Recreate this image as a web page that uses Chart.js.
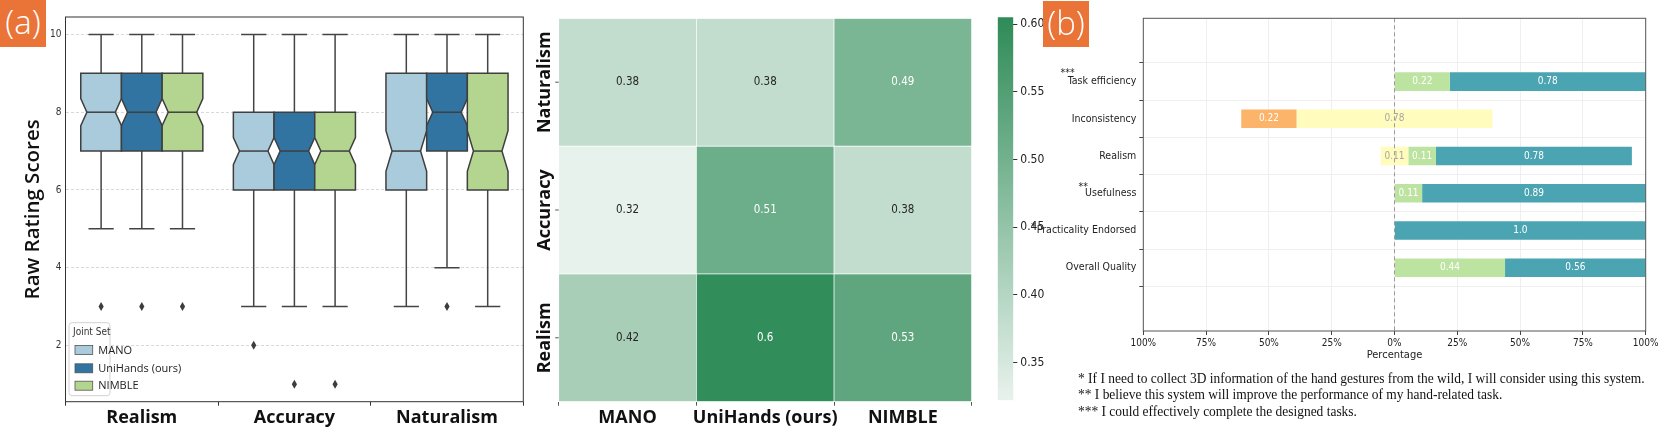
<!DOCTYPE html>
<html lang="en">
<head>
<meta charset="UTF-8">
<script src="https://cdn.jsdelivr.net/npm/chart.js"></script>
<title>Joint set user study</title>
<style>
	body { margin: 0; width: 1661px; height: 432px; background: #fff; position: relative; overflow: hidden; }
	.panel { position: absolute; top: 0; }
	.tag { position: absolute; background: #ea7438; color: #fff; font-family: 'Open Sans', sans-serif; font-weight: 300; font-size: 33px; line-height: 44px; text-align: center; }
	#notes { position: absolute; left: 1078px; top: 370.5px; font-family: 'Liberation Serif', 'DejaVu Serif', serif; font-size: 14px; line-height: 16.7px; color: #111; white-space: nowrap; transform: scaleX(0.96); transform-origin: 0 0; }
</style>
</head>
<body>
<div class="panel" style="left:0;width:560px;height:432px"><canvas id="boxChart"></canvas></div>
<div class="panel" style="left:530px;width:450px;height:432px"><canvas id="heatChart"></canvas></div>
<div class="panel" style="left:985px;width:60px;height:432px"><canvas id="colorBar"></canvas></div>
<div class="panel" style="left:1010px;width:651px;height:363px"><canvas id="likertChart"></canvas></div>
<div class="tag" style="left:0;top:0;width:46px;height:47px">(a)</div>
<div class="tag" style="left:1043px;top:1px;width:46px;height:46px">(b)</div>
<div id="notes">
	<div>* If I need to collect 3D information of the hand gestures from the wild, I will consider using this system.</div>
	<div>** I believe this system will improve the performance of my hand-related task.</div>
	<div>*** I could effectively complete the designed tasks.</div>
</div>
<script>
// ---- data: (a) box plot ----
const categories = ['Realism', 'Accuracy', 'Naturalism'];
const jointSets = ['MANO', 'UniHands (ours)', 'NIMBLE'];
const respondents = 81;
const manoQ1 = [7, 6, 6], manoMed = [8, 7, 7], manoQ3 = [9, 8, 9];
const manoLow = [5, 3, 3], manoHigh = [10, 10, 10], manoOut = [[3], [2], []];
const uniQ1 = [7, 6, 7], uniMed = [8, 7, 8], uniQ3 = [9, 8, 9];
const uniLow = [5, 3, 4], uniHigh = [10, 10, 10], uniOut = [[3], [1], [3]];
const nimQ1 = [7, 6, 6], nimMed = [8, 7, 7], nimQ3 = [9, 8, 9];
const nimLow = [5, 3, 3], nimHigh = [10, 10, 10], nimOut = [[3], [1], []];
const scoreTicks = [2, 4, 6, 8, 10];

// ---- data: heatmap ----
const heatRows = ['Naturalism', 'Accuracy', 'Realism'];
const heatCols = ['MANO', 'UniHands (ours)', 'NIMBLE'];
const naturalismShare = [0.38, 0.38, 0.49];
const accuracyShare = [0.32, 0.51, 0.38];
const realismShare = [0.42, 0.6, 0.53];
const colorMin = 0.322, colorMax = 0.605;
const colorTicks = [0.35, 0.40, 0.45, 0.50, 0.55, 0.60];

// ---- data: (b) survey ----
const surveyItems = ['Task efficiency', 'Inconsistency', 'Realism', 'Usefulness', 'Practicality Endorsed', 'Overall Quality'];
const itemMarks = ['***', '', '', '**', '*', ''];
const disagreeShare = [0, 0.22, 0, 0, 0, 0];
const neutralShare = [0, 0.78, 0.11, 0, 0, 0];
const agreeShare = [0.22, 0, 0.11, 0.11, 0, 0.44];
const strongShare = [0.78, 0, 0.78, 0.89, 1.0, 0.56];
const pctTicks = [-1, -0.75, -0.5, -0.25, 0, 0.25, 0.5, 0.75, 1];

// ---- styles ----
const narrow = "'Liberation Sans Narrow', 'DejaVu Sans Condensed', 'DejaVu Sans', sans-serif";
const boxColors = ['#a9cbdc', '#3274a1', '#b3d590'];
const cmapLow = [232, 242, 236], cmapHigh = [46, 139, 87];
const likertColors = ['#fbb46a', '#fffcbe', '#bde3a1', '#4ba4b2'];
const likertText = ['#ffffff', '#a8a8a0', '#ffffff', '#ffffff'];

Chart.defaults.font.family = "'Open Sans', sans-serif";
Chart.defaults.color = '#222';
Chart.defaults.animation = false;
Chart.defaults.devicePixelRatio = 1;
Chart.defaults.plugins.legend.display = false;
Chart.defaults.plugins.tooltip.enabled = false;

function fixTicks(list) {
	return function(scale) { scale.ticks = list.map(v => ({ value: v })); };
}

// ===================== (a) notched box plot =====================
const boxSets = [
	{ q1: manoQ1, med: manoMed, q3: manoQ3, lo: manoLow, hi: manoHigh, out: manoOut },
	{ q1: uniQ1, med: uniMed, q3: uniQ3, lo: uniLow, hi: uniHigh, out: uniOut },
	{ q1: nimQ1, med: nimMed, q3: nimQ3, lo: nimLow, hi: nimHigh, out: nimOut }
];

const boxPlugin = {
	id: 'boxes',
	afterDatasetsDraw(chart) {
		const ctx = chart.ctx, ys = chart.scales.y, area = chart.chartArea;
		ctx.save();
		boxSets.forEach((s, i) => {
			chart.getDatasetMeta(i).data.forEach((bar, j) => {
				const cx = bar.x, w = bar.width, l = cx - w / 2, r = cx + w / 2;
				const ci = 1.57 * (s.q3[j] - s.q1[j]) / Math.sqrt(respondents);
				const ins = w * 0.15, capW = w * 0.62;
				const p = v => ys.getPixelForValue(v);
				// whiskers
				ctx.strokeStyle = '#444'; ctx.lineWidth = 1.5;
				ctx.beginPath();
				ctx.moveTo(cx, p(s.q3[j])); ctx.lineTo(cx, p(s.hi[j]));
				ctx.moveTo(cx - capW / 2, p(s.hi[j])); ctx.lineTo(cx + capW / 2, p(s.hi[j]));
				ctx.moveTo(cx, p(s.q1[j])); ctx.lineTo(cx, p(s.lo[j]));
				ctx.moveTo(cx - capW / 2, p(s.lo[j])); ctx.lineTo(cx + capW / 2, p(s.lo[j]));
				ctx.stroke();
				// notched box
				const top = p(s.q3[j]), bot = p(s.q1[j]), m = p(s.med[j]);
				const nt = p(s.med[j] + ci), nb = p(s.med[j] - ci);
				ctx.beginPath();
				ctx.moveTo(l, top); ctx.lineTo(r, top); ctx.lineTo(r, nt); ctx.lineTo(r - ins, m);
				ctx.lineTo(r, nb); ctx.lineTo(r, bot); ctx.lineTo(l, bot); ctx.lineTo(l, nb);
				ctx.lineTo(l + ins, m); ctx.lineTo(l, nt); ctx.closePath();
				ctx.fillStyle = boxColors[i]; ctx.fill();
				ctx.strokeStyle = '#3f3f3f'; ctx.lineWidth = 1.5; ctx.stroke();
				ctx.beginPath(); ctx.moveTo(l + ins, m); ctx.lineTo(r - ins, m); ctx.stroke();
				// outliers
				ctx.fillStyle = '#3d3d3d';
				s.out[j].forEach(v => {
					const py = p(v);
					ctx.beginPath();
					ctx.moveTo(cx, py - 4.5); ctx.lineTo(cx + 2.6, py); ctx.lineTo(cx, py + 4.5); ctx.lineTo(cx - 2.6, py);
					ctx.closePath(); ctx.fill();
				});
			});
		});
		// frame
		ctx.strokeStyle = '#333'; ctx.lineWidth = 1;
		ctx.strokeRect(area.left, area.top, area.right - area.left, area.bottom - area.top);
		// legend
		const lx = area.left, lb = area.bottom;
		ctx.fillStyle = 'rgba(255,255,255,0.85)';
		ctx.strokeStyle = '#d2d2d2';
		ctx.beginPath(); ctx.roundRect(lx + 3.5, lb - 79, 41, 73, 3); ctx.fill(); ctx.stroke();
		ctx.fillStyle = '#333'; ctx.textBaseline = 'middle'; ctx.textAlign = 'left';
		ctx.font = '10px ' + narrow;
		ctx.fillText('Joint Set', lx + 7.5, lb - 69.5);
		ctx.font = "11px 'Open Sans', sans-serif";
		const rowsY = [lb - 51.7, lb - 33.4, lb - 16];
		jointSets.forEach((name, i) => {
			ctx.fillStyle = boxColors[i];
			ctx.fillRect(lx + 9.5, rowsY[i] - 4.5, 17.7, 9);
			ctx.strokeStyle = '#555'; ctx.lineWidth = 0.8;
			ctx.strokeRect(lx + 9.5, rowsY[i] - 4.5, 17.7, 9);
			ctx.fillStyle = '#222';
			ctx.fillText(name, lx + 32.8, rowsY[i] + 0.5);
		});
		ctx.restore();
	}
};

new Chart(document.getElementById('boxChart'), {
	type: 'bar',
	data: {
		labels: categories,
		datasets: jointSets.map((name, i) => ({
			label: name,
			data: boxSets[i].q1.map((q, j) => [q, boxSets[i].q3[j]]),
			backgroundColor: 'rgba(0,0,0,0)',
			borderWidth: 0,
			categoryPercentage: 0.8,
			barPercentage: 1
		}))
	},
	options: {
		responsive: true,
		maintainAspectRatio: false,
		layout: { padding: { top: 17, right: 36.7, left: 0, bottom: 0 } },
		scales: {
			x: {
				grid: { drawOnChartArea: false, tickLength: 4, tickColor: '#333' },
				border: { display: false },
				ticks: { font: { size: 18, weight: 'bold' }, color: '#111', padding: 1, maxRotation: 0, autoSkip: false },
				afterFit(scale) { scale.height = 30.3; }
			},
			y: {
				min: 0.55, max: 10.45,
				afterBuildTicks: fixTicks(scoreTicks),
				grid: { color: '#cfcfcf', lineWidth: 0.8, drawTicks: false, tickLength: 0 },
				border: { display: false, dash: [3, 2] },
				ticks: { font: { size: 10, family: narrow }, color: '#333', padding: 4 },
				title: { display: true, text: 'Raw Rating Scores', font: { size: 20.5, weight: 600 }, color: '#111', padding: { top: 21, bottom: 0 } },
				afterFit(scale) { scale.width = 65.5; }
			}
		}
	},
	plugins: [boxPlugin]
});

// ===================== heatmap =====================
const heatValues = [naturalismShare, accuracyShare, realismShare];

function cmap(v) {
	const t = Math.max(0, Math.min(1, (v - colorMin) / (colorMax - colorMin)));
	return cmapLow.map((c, k) => Math.round(c + (cmapHigh[k] - c) * t));
}
function rgb(c) { return 'rgb(' + c.join(',') + ')'; }
function isLight(c) {
	const lin = c.map(x => { x /= 255; return x <= 0.04045 ? x / 12.92 : Math.pow((x + 0.055) / 1.055, 2.4); });
	return 0.2126 * lin[0] + 0.7152 * lin[1] + 0.0722 * lin[2] > 0.408;
}

const heatPlugin = {
	id: 'heatText',
	afterDatasetsDraw(chart) {
		const ctx = chart.ctx, ys = chart.scales.y, area = chart.chartArea;
		ctx.save();
		ctx.textAlign = 'center'; ctx.textBaseline = 'middle';
		ctx.font = '11.5px ' + narrow;
		heatValues.forEach((row, r) => {
			chart.getDatasetMeta(r).data.forEach((bar, c) => {
				ctx.fillStyle = isLight(cmap(row[c])) ? '#262626' : '#ffffff';
				ctx.fillText(String(row[c]), bar.x, (bar.y + bar.base) / 2);
			});
		});
		ctx.font = "bold 18px 'Open Sans', sans-serif";
		ctx.fillStyle = '#111';
		heatRows.forEach((name, r) => {
			const y = ys.getPixelForValue(r + 0.5);
			ctx.strokeStyle = '#555'; ctx.lineWidth = 1;
			ctx.beginPath(); ctx.moveTo(area.left - 3.5, y); ctx.lineTo(area.left, y); ctx.stroke();
			ctx.save();
			ctx.translate(area.left - 13.7, y);
			ctx.rotate(-Math.PI / 2);
			ctx.fillText(name, 0, 0);
			ctx.restore();
		});
		ctx.restore();
	}
};

new Chart(document.getElementById('heatChart'), {
	type: 'bar',
	data: {
		labels: heatCols,
		datasets: heatRows.map((name, r) => ({
			label: name,
			data: heatValues[r].map(() => [r, r + 1]),
			backgroundColor: heatValues[r].map(v => rgb(cmap(v))),
			borderColor: '#ffffff',
			borderWidth: 0.7,
			borderSkipped: false,
			grouped: false,
			barPercentage: 1,
			categoryPercentage: 1
		}))
	},
	options: {
		responsive: true,
		maintainAspectRatio: false,
		layout: { padding: { top: 18.3, right: 8.3, left: 28.7, bottom: 0 } },
		scales: {
			x: {
				grid: { drawOnChartArea: false, tickLength: 4, tickColor: '#555' },
				border: { display: false },
				ticks: { font: { size: 18, weight: 'bold' }, color: '#111', padding: 1, maxRotation: 0, minRotation: 0, autoSkip: false },
				afterFit(scale) { scale.height = 30.3; }
			},
			y: { display: false, min: 0, max: 3, reverse: true }
		}
	},
	plugins: [heatPlugin]
});

// colour bar
new Chart(document.getElementById('colorBar'), {
	type: 'bar',
	data: {
		labels: [''],
		datasets: [{
			data: [[colorMin, colorMax]],
			backgroundColor(c) {
				const a = c.chart.chartArea;
				if (!a) return rgb(cmapHigh);
				const g = c.chart.ctx.createLinearGradient(0, a.bottom, 0, a.top);
				g.addColorStop(0, rgb(cmapLow));
				g.addColorStop(1, rgb(cmapHigh));
				return g;
			},
			borderWidth: 0,
			barPercentage: 1,
			categoryPercentage: 1
		}]
	},
	options: {
		responsive: true,
		maintainAspectRatio: false,
		layout: { padding: { top: 17.3, right: 0, left: 12.7, bottom: 31.7 } },
		scales: {
			x: { display: false },
			y: {
				position: 'right',
				min: colorMin, max: colorMax,
				afterBuildTicks: fixTicks(colorTicks),
				grid: { drawOnChartArea: false, tickLength: 4, tickColor: '#333' },
				border: { display: false },
				ticks: { font: { size: 12, family: narrow }, color: '#222', padding: 3, callback: v => v.toFixed(2) },
				afterFit(scale) { scale.width = 31.7; }
			}
		}
	}
});

// ===================== (b) diverging survey bars =====================
const shareSeries = [disagreeShare, neutralShare, agreeShare, strongShare];
const segStart = shareSeries.map(() => []);
const segEnd = shareSeries.map(() => []);
surveyItems.forEach((_, i) => {
	let x = -(disagreeShare[i] + neutralShare[i] / 2);
	shareSeries.forEach((series, k) => {
		segStart[k][i] = x;
		x += series[i];
		segEnd[k][i] = x;
	});
});

function fmtShare(v) { return Number.isInteger(v) ? v.toFixed(1) : String(v); }

const likertPlugin = {
	id: 'likertDeco',
	afterDatasetsDraw(chart) {
		const ctx = chart.ctx, xs = chart.scales.x, ys = chart.scales.y, area = chart.chartArea;
		ctx.save();
		// zero line
		const x0 = xs.getPixelForValue(0);
		ctx.strokeStyle = '#9a9a9a'; ctx.lineWidth = 1; ctx.setLineDash([4, 3]);
		ctx.beginPath(); ctx.moveTo(x0, area.top); ctx.lineTo(x0, area.bottom); ctx.stroke();
		ctx.setLineDash([]);
		// segment labels
		ctx.textAlign = 'center'; ctx.textBaseline = 'middle';
		ctx.font = '10px ' + narrow;
		shareSeries.forEach((series, k) => {
			chart.getDatasetMeta(k).data.forEach((bar, i) => {
				if (!series[i]) return;
				ctx.fillStyle = likertText[k];
				ctx.fillText(fmtShare(series[i]), (bar.x + bar.base) / 2, bar.y);
			});
		});
		// frame
		ctx.strokeStyle = '#555'; ctx.lineWidth = 1;
		ctx.strokeRect(area.left, area.top, area.right - area.left, area.bottom - area.top);
		// footnote marks next to their tick labels
		ctx.fillStyle = '#222'; ctx.textAlign = 'right'; ctx.textBaseline = 'middle';
		ys.getLabelItems().forEach((item, i) => {
			const mark = itemMarks[i];
			if (!mark) return;
			ctx.font = item.font.string;
			const labelLeft = item.options.translation[0] - ctx.measureText(String(item.label)).width;
			ctx.fillText(mark, labelLeft + 4 * (mark.length - 1) - 1, item.options.translation[1] - 2.5 * mark.length - 1);
		});
		ctx.restore();
	}
};

new Chart(document.getElementById('likertChart'), {
	type: 'bar',
	data: {
		datasets: shareSeries.map((series, k) => ({
			data: surveyItems.map((_, i) => ({ y: i, x: [segStart[k][i], segEnd[k][i]] })),
			backgroundColor: likertColors[k],
			borderWidth: 0,
			grouped: false,
			barPercentage: 0.5,
			categoryPercentage: 1
		}))
	},
	options: {
		indexAxis: 'y',
		responsive: true,
		maintainAspectRatio: false,
		layout: { padding: { top: 18.3, right: 15.3, left: 0, bottom: 0 } },
		scales: {
			x: {
				type: 'linear',
				min: -1, max: 1,
				afterBuildTicks: fixTicks(pctTicks),
				grid: { color: '#efefef', tickLength: 4, tickColor: '#444' },
				border: { display: false },
				ticks: { font: { size: 10, family: narrow }, color: '#222', padding: 2, maxRotation: 0, callback: v => Math.round(Math.abs(v) * 100) + '%' },
				title: { display: true, text: 'Percentage', font: { size: 11, family: narrow }, color: '#222', padding: { top: 0, bottom: 1 } },
				afterFit(scale) { scale.height = 32; }
			},
			y: {
				type: 'linear',
				min: -1, max: 6,
				reverse: true,
				afterBuildTicks: fixTicks(surveyItems.map((_, i) => i)),
				grid: { color: '#efefef', tickLength: 4, tickColor: '#444' },
				border: { display: false },
				ticks: { font: { size: 10.5, family: narrow }, color: '#222', padding: 3, callback: v => surveyItems[v] },
				afterFit(scale) { scale.width = 133.3; }
			}
		}
	},
	plugins: [likertPlugin]
});
</script>
</body>
</html>
